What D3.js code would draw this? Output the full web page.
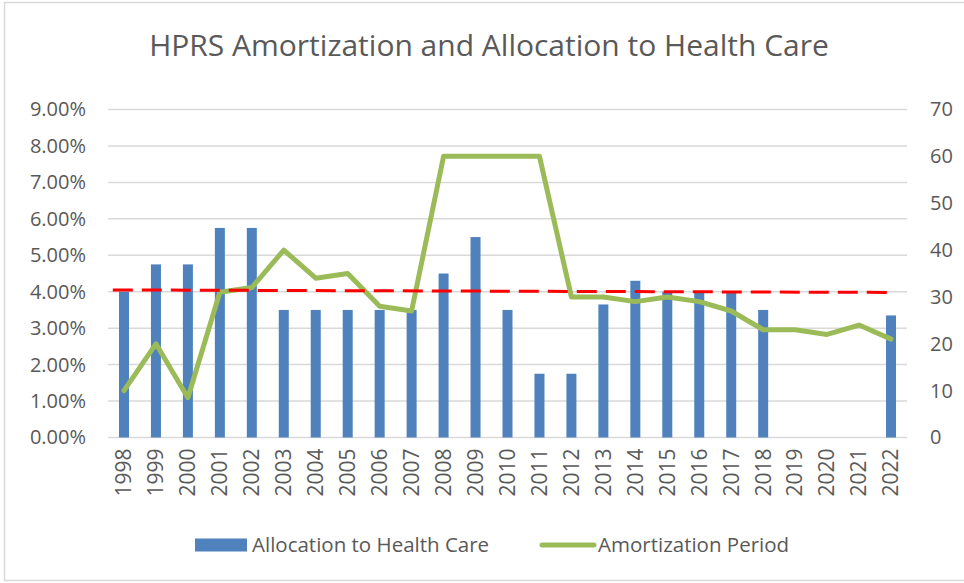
<!DOCTYPE html>
<html lang="en">
<head>
  <meta charset="UTF-8">
  <title>HPRS Amortization and Allocation to Health Care</title>
  <style>
    body { margin: 0; background: #fff; }
    text { font-family: "Open Sans", sans-serif; fill: #595959; }
  </style>
</head>
<body>
  <svg id="chart" width="964" height="583"></svg>

  <script src="https://d3js.org/d3.v7.min.js"></script>
  <script>
    // Data
    const years = ['1998', '1999', '2000', '2001', '2002', '2003', '2004', '2005', '2006', '2007', '2008', '2009',
      '2010', '2011', '2012', '2013', '2014', '2015', '2016', '2017', '2018', '2019', '2020', '2021', '2022']
    // allocation to health care, in percent (no bar for 2019-2021)
    const allocation = [4.0, 4.75, 4.75, 5.75, 5.75, 3.5, 3.5, 3.5, 3.5, 3.5, 4.5, 5.5,
      3.5, 1.75, 1.75, 3.65, 4.3, 4.0, 4.0, 4.0, 3.5, null, null, null, 3.35]
    // amortization period, years (right axis)
    const amortization = [10, 20, 8.5, 31, 32, 40, 34, 35, 28, 27, 60, 60,
      60, 60, 30, 30, 29, 30, 29, 27, 23, 23, 22, 24, 21]
    // dashed trend line on the allocation: start / end in percent
    const trendValues = [4.05, 3.98]
    const trendIndex = [-0.35, 24]

    const leftTicks = [0, 1, 2, 3, 4, 5, 6, 7, 8, 9]
    const rightTicks = [0, 10, 20, 30, 40, 50, 60, 70]

    const margin = { top: 109.5, right: 57, bottom: 145.5, left: 108 }
    const width = 964 - margin.left - margin.right
    const height = 583 - margin.top - margin.bottom

    const svg = d3.select('#chart')

    // chart border
    svg.append('rect')
      .attr('x', 4.5).attr('y', 2.5)
      .attr('width', 975).attr('height', 578)
      .attr('fill', 'none')
      .attr('stroke', '#d9d9d9')
      .attr('stroke-width', 1.5)

    const g = svg.append('g')
      .attr('transform', `translate(${margin.left}, ${margin.top})`)

    const x = d3.scaleBand()
      .domain(years)
      .range([0, width])

    const idx = d3.scaleLinear()
      .domain([0, years.length - 1])
      .range([x.bandwidth() / 2, width - x.bandwidth() / 2])

    const yLeft = d3.scaleLinear().domain([0, 9]).range([height, 0])
    const yRight = d3.scaleLinear().domain([0, 70]).range([height, 0])

    // gridlines
    g.append('g')
      .selectAll('line')
      .data(leftTicks)
      .join('line')
      .attr('x1', 0).attr('x2', width)
      .attr('y1', d => yLeft(d)).attr('y2', d => yLeft(d))
      .attr('stroke', '#d9d9d9')
      .attr('stroke-width', 1.5)

    // left axis
    const leftAxis = d3.axisLeft(yLeft)
      .tickValues(leftTicks)
      .tickFormat(d => d3.format('.2f')(d) + '%')
      .tickSize(0)
      .tickPadding(22)
    g.append('g').call(leftAxis)
      .call(a => a.select('.domain').remove())
      .selectAll('text')
      .style('font-size', '20px')
      .attr('fill', '#595959')

    // right axis
    const rightAxis = d3.axisRight(yRight)
      .tickValues(rightTicks)
      .tickSize(0)
      .tickPadding(23)
    g.append('g')
      .attr('transform', `translate(${width}, 0)`)
      .call(rightAxis)
      .call(a => a.select('.domain').remove())
      .selectAll('text')
      .style('font-size', '20px')
      .attr('fill', '#595959')

    // bottom axis, rotated year labels
    const bottomAxis = d3.axisBottom(x).tickSize(0).tickPadding(0)
    g.append('g')
      .attr('transform', `translate(0, ${height})`)
      .call(bottomAxis)
      .call(a => a.select('.domain').remove())
      .selectAll('text')
      .style('font-size', '21px')
      .attr('fill', '#595959')
      .attr('text-anchor', 'end')
      .attr('y', 0)
      .attr('dy', '0.35em')
      .attr('transform', 'translate(0, 11) rotate(-90)')

    // bars
    const barWidth = 10
    g.append('g')
      .selectAll('rect')
      .data(years.map((y, i) => ({ year: y, value: allocation[i] })).filter(d => d.value !== null))
      .join('rect')
      .attr('x', d => x(d.year) + x.bandwidth() / 2 - barWidth / 2)
      .attr('y', d => yLeft(d.value))
      .attr('width', barWidth)
      .attr('height', d => height - yLeft(d.value))
      .attr('fill', '#4f81bd')

    // amortization line
    const line = d3.line()
      .x((d, i) => x(years[i]) + x.bandwidth() / 2)
      .y(d => yRight(d))
    g.append('path')
      .datum(amortization)
      .attr('d', line)
      .attr('fill', 'none')
      .attr('stroke', '#9bbb59')
      .attr('stroke-width', 5)
      .attr('stroke-linejoin', 'round')
      .attr('stroke-linecap', 'round')

    // trend line
    g.append('path')
      .datum(trendValues)
      .attr('d', d3.line().x((d, i) => idx(trendIndex[i])).y(d => yLeft(d)))
      .attr('fill', 'none')
      .attr('stroke', '#ff0000')
      .attr('stroke-width', 3)
      .attr('stroke-dasharray', '20 9')

    // title
    svg.append('text')
      .attr('x', 489)
      .attr('y', 56)
      .attr('text-anchor', 'middle')
      .style('font-size', '30px')
      .text('HPRS Amortization and Allocation to Health Care')

    // legend
    const legend = svg.append('g').attr('transform', 'translate(0, 545)')
    legend.append('rect')
      .attr('x', 195).attr('y', -6.5)
      .attr('width', 52).attr('height', 13)
      .attr('fill', '#4f81bd')
    legend.append('text')
      .attr('x', 252).attr('y', 0).attr('dy', '0.35em')
      .style('font-size', '20.5px')
      .text('Allocation to Health Care')
    legend.append('line')
      .attr('x1', 542).attr('x2', 594)
      .attr('y1', 0).attr('y2', 0)
      .attr('stroke', '#9bbb59')
      .attr('stroke-width', 5)
      .attr('stroke-linecap', 'round')
    legend.append('text')
      .attr('x', 598).attr('y', 0).attr('dy', '0.35em')
      .style('font-size', '20.5px')
      .text('Amortization Period')
  </script>
</body>
</html>
